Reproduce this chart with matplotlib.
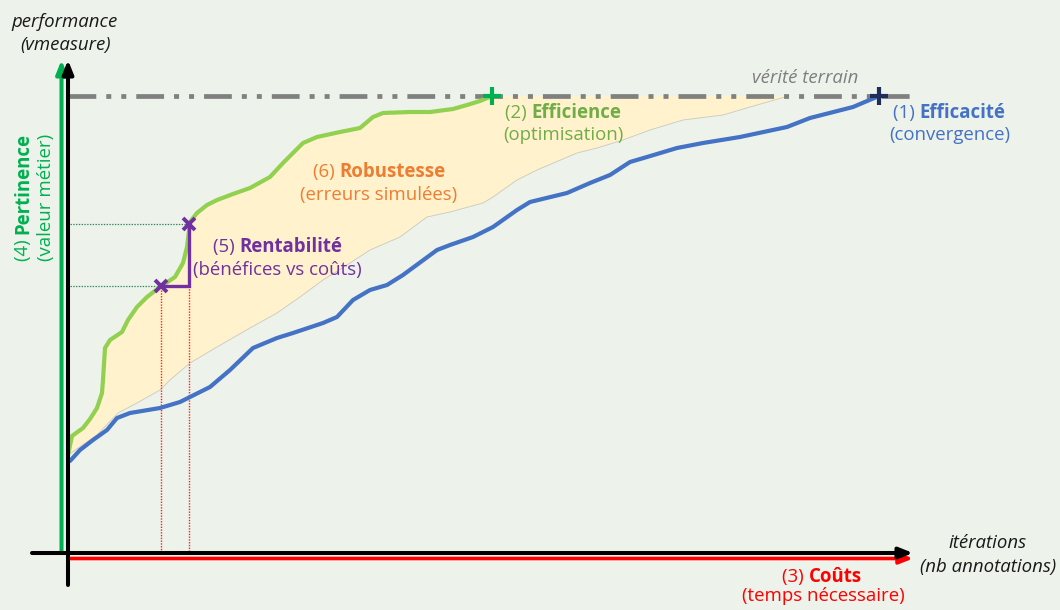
import matplotlib
matplotlib.use("Agg")
import matplotlib.pyplot as plt

plt.rcParams["lines.scale_dashes"] = False
FONT = ["Open Sans", "DejaVu Sans"]
BG = "#EDF2EA"
SIZE = 13.4

# Axis frame: x = iterations (number of annotations), y = performance (v-measure),
# both expressed in the diagram's own units with the origin at the axes corner.
ground_truth = 457
x_end = 845

# (2) Efficience: best-case learning curve
green_x = [0, 4, 15, 22, 29, 34, 35, 37, 42, 54, 60, 69, 79, 92, 107, 115, 119, 122, 129,
           139, 149, 165, 182, 202, 215, 235, 249, 272, 292, 305, 315, 342, 362, 385, 399,
           412, 424]
green_y = [98, 117, 125, 134, 145, 160, 173, 205, 213, 221, 233, 246, 256, 266, 276, 290,
           306, 331, 340, 348, 353, 359, 365, 376, 390, 410, 416, 421, 425, 436, 440, 441,
           441, 444, 448, 452, 457]

# (1) Efficacité: reference convergence curve
blue_x = [2, 12, 25, 39, 49, 62, 92, 112, 122, 142, 162, 185, 209, 225, 255, 269, 285, 302,
          319, 335, 369, 382, 405, 425, 449, 462, 499, 522, 542, 562, 579, 609, 635, 672,
          719, 742, 785, 811]
blue_y = [92, 103, 113, 123, 135, 140, 145, 151, 156, 166, 183, 205, 215, 220, 230, 236,
          253, 263, 268, 278, 303, 308, 316, 326, 343, 351, 360, 370, 378, 391, 396, 405,
          410, 416, 426, 435, 446, 457]

# (6) Robustesse: lower edge of the simulated-error band
band_low_x = [0, 29, 50, 69, 92, 102, 122, 149, 182, 209, 232, 255, 282, 302, 332, 359, 382,
              415, 425, 449, 469, 509, 529, 555, 582, 615, 655, 682, 717]
band_low_y = [98, 118, 140, 150, 163, 173, 190, 206, 225, 240, 256, 273, 290, 303, 316, 336,
              341, 350, 356, 373, 383, 400, 405, 413, 423, 433, 438, 446, 456]

# (5) Rentabilité: two points compared on the best-case curve
rent_x = [93, 121]
rent_y = [267, 329]

# Convergence points on the ground-truth level
eff_point = (424, ground_truth)
conv_point = (811, ground_truth)

fig = plt.figure(figsize=(10.6, 6.1), dpi=100, facecolor=BG)
ax = fig.add_axes([0, 0, 1, 1])
ax.set_xlim(-68, 992)
ax.set_ylim(-57, 553)
ax.axis("off")
ax.set_facecolor(BG)

# Robustness band: from the best-case curve down to the lower edge
poly_x = green_x + [band_low_x[-1]] + band_low_x[::-1]
poly_y = green_y + [ground_truth] + band_low_y[::-1]
ax.fill(poly_x, poly_y, color="#FFF2CC", lw=0, zorder=1)
ax.plot(band_low_x, band_low_y, color="#C9C9BE", lw=0.6, zorder=1.5)

# Ground truth level
ax.plot([0, x_end], [ground_truth, ground_truth], color="#808080", lw=3.4,
        dashes=(20, 7.2, 3.6, 7.2, 3.6, 7.2), dash_capstyle="butt", zorder=2)

# Guides for the Rentabilité comparison
for px, py in zip(rent_x, rent_y):
    ax.plot([2, px - 3], [py, py], color="#2E8B57", lw=0.9, ls=(0, (1, 1)), zorder=2.5)
ax.plot([rent_x[0], rent_x[0]], [rent_y[0] - 4, 2], color="#FF2020", lw=1.0,
        ls=(0, (1, 1)), zorder=2.5)
ax.plot([rent_x[1], rent_x[1]], [rent_y[0], 2], color="#FF2020", lw=1.0,
        ls=(0, (1, 1)), zorder=2.5)

# Curves
ax.plot(blue_x, blue_y, color="#4472C4", lw=3.0, solid_joinstyle="round",
        solid_capstyle="round", zorder=3)
ax.plot(green_x, green_y, color="#92D050", lw=3.0, solid_joinstyle="round",
        solid_capstyle="round", zorder=3.2)

# Rentabilité step and markers
ax.plot([rent_x[0], rent_x[1], rent_x[1]], [rent_y[0], rent_y[0], rent_y[1]],
        color="#7030A0", lw=2.4, solid_joinstyle="miter", zorder=4)
ax.plot(rent_x, rent_y, ls="none", marker="x", ms=9, mew=2.8, color="#7030A0", zorder=5)
ax.plot(*eff_point, marker="+", ms=13, mew=3, color="#00B050", zorder=5)
ax.plot(*conv_point, marker="+", ms=13, mew=3, color="#1F2D5C", zorder=5)


def arrow(x0, y0, x1, y1, color, lw):
    ax.annotate("", xy=(x1, y1), xytext=(x0, y0),
                arrowprops=dict(arrowstyle="-|>,head_length=0.8,head_width=0.32",
                                color=color, lw=lw, shrinkA=0, shrinkB=0,
                                mutation_scale=10),
                zorder=6)


arrow(-6.5, 2, -6.5, 493, "#00B050", 2.9)
arrow(1, -5.5, x_end, -5.5, "#FF0000", 2.6)
arrow(0, -32, 0, 493, "black", 2.9)
arrow(-36, 0, x_end, 0, "black", 2.9)

renderer = fig.canvas.get_renderer()


def advance(txt, weight, size, style):
    probe = ax.text(0, 0, txt + "|", fontsize=size, fontweight=weight, fontstyle=style,
                    fontfamily=FONT)
    bar = ax.text(0, 0, "|", fontsize=size, fontweight=weight, fontstyle=style,
                  fontfamily=FONT)
    w = probe.get_window_extent(renderer).width - bar.get_window_extent(renderer).width
    probe.remove()
    bar.remove()
    return w


def rich_line(x, y, parts, color, size=SIZE, rotation=0, style="normal"):
    """Draw a centred line made of (text, weight) parts at baseline (x, y)."""
    widths = [advance(t, w, size, style) for t, w in parts]
    pos = -sum(widths) / 2
    for (t, w), wd in zip(parts, widths):
        if rotation == 0:
            xy = (x + pos, y)
        else:
            xy = (x, y + pos)
        ax.text(*xy, t, fontsize=size, fontweight=w, fontstyle=style, color=color,
                fontfamily=FONT, ha="left", va="baseline", rotation=rotation,
                rotation_mode="anchor", zorder=7)
        pos += wd


rich_line(495, 435, [("(2) ", "normal"), ("Efficience", "bold")], "#70AD47")
rich_line(495, 413, [("(optimisation)", "normal")], "#70AD47")
rich_line(881, 435, [("(1) ", "normal"), ("Efficacité", "bold")], "#4472C4")
rich_line(882, 413, [("(convergence)", "normal")], "#4472C4")
rich_line(311, 376, [("(6) ", "normal"), ("Robustesse", "bold")], "#ED7D31")
rich_line(311, 353, [("(erreurs simulées)", "normal")], "#ED7D31")
rich_line(210, 301, [("(5) ", "normal"), ("Rentabilité", "bold")], "#7030A0")
rich_line(209, 278, [("(bénéfices vs coûts)", "normal")], "#7030A0")
rich_line(754, -29, [("(3) ", "normal"), ("Coûts", "bold")], "#FF0000")
rich_line(755, -48, [("(temps nécessaire)", "normal")], "#FF0000")
rich_line(-40, 356, [("(4) ", "normal"), ("Pertinence", "bold")], "#00B050", rotation=90)
rich_line(-17, 356, [("(valeur métier)", "normal")], "#00B050", rotation=90)

rich_line(737, 470, [("vérité terrain", "normal")], "#7F7F7F", style="italic")
rich_line(-3, 526, [("performance", "normal")], "#1A1A1A", style="italic")
rich_line(-2, 503, [("(vmeasure)", "normal")], "#1A1A1A", style="italic")
rich_line(920, 5, [("itérations", "normal")], "#1A1A1A", style="italic")
rich_line(920, -19, [("(nb annotations)", "normal")], "#1A1A1A", style="italic")

fig.savefig("out.png", dpi=100, facecolor=BG)
